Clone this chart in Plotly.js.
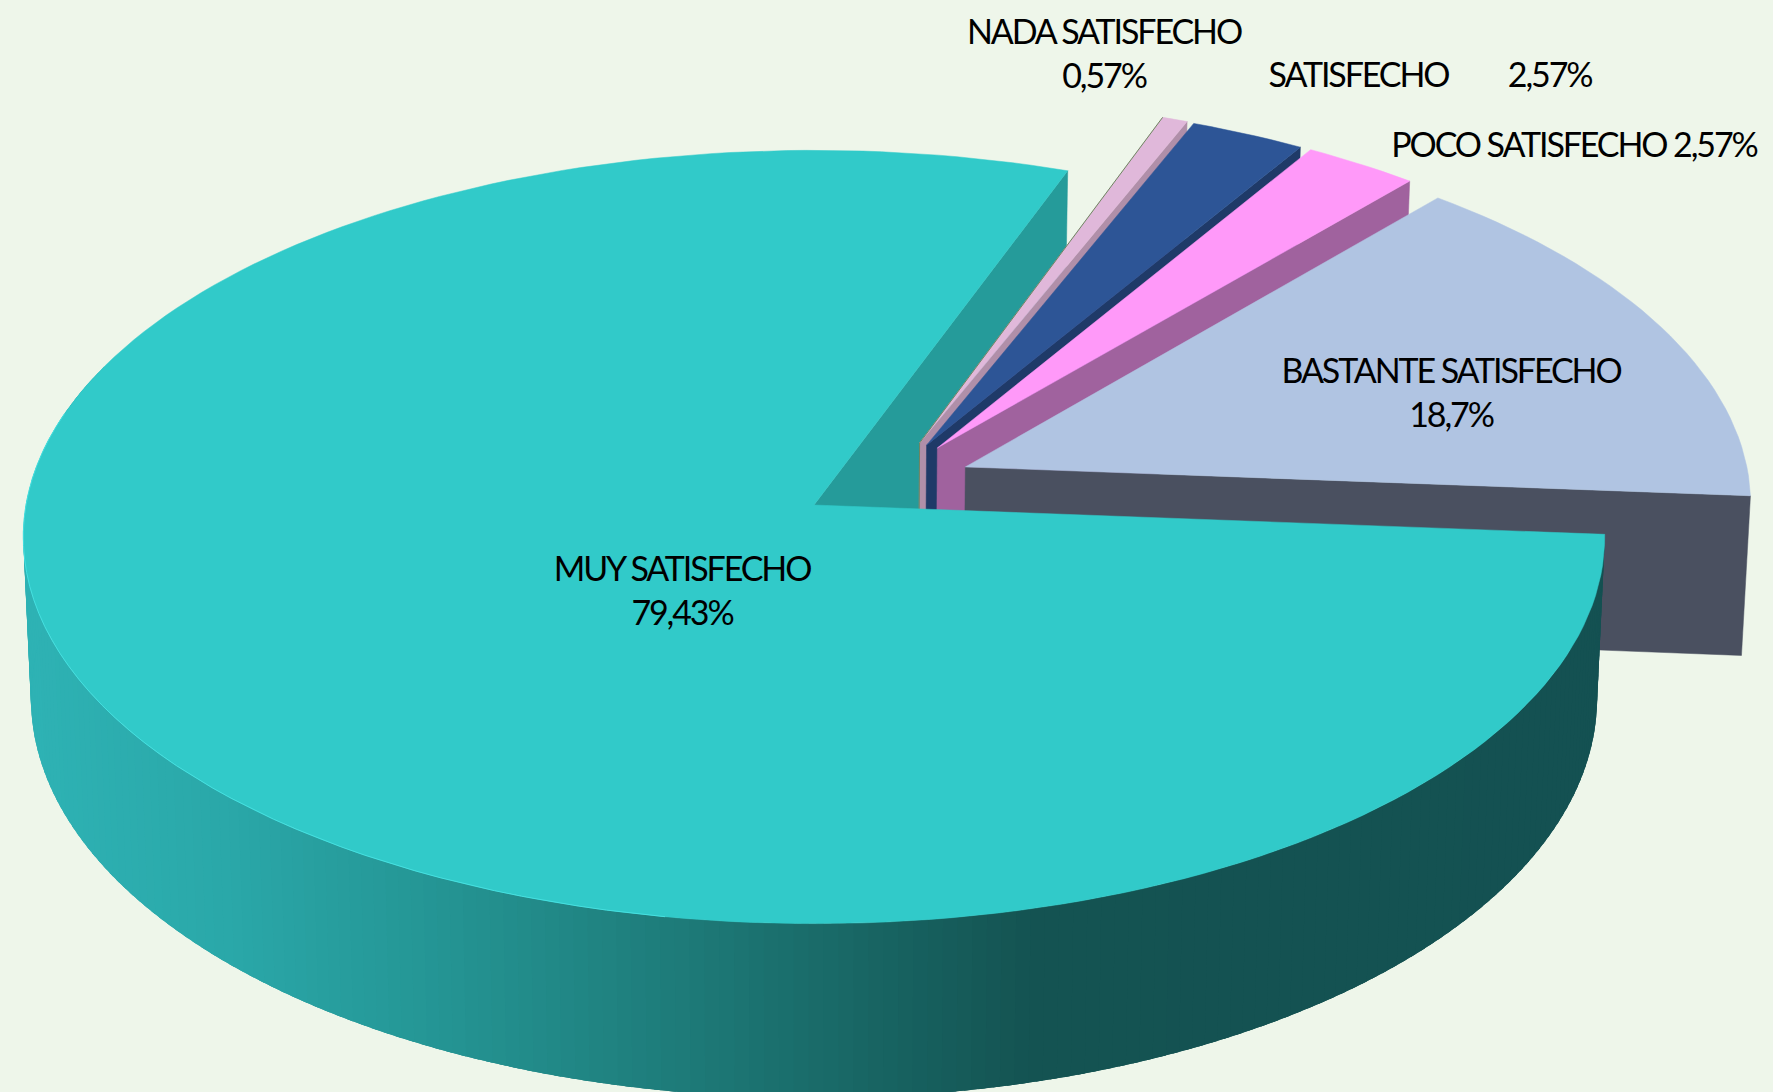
<!DOCTYPE html>
<html>
<head>
<meta charset="utf-8">
<script src="https://cdn.plot.ly/plotly-3.0.1.min.js"></script>
<style>
html,body{margin:0;padding:0;background:#EEF6EA;overflow:hidden}
.textpoint text{letter-spacing:-2.1px}
</style>
</head>
<body>
<div id="chart" style="width:1773px;height:1092px"></div>
<script>
// Slices in clockwise order, beginning at the top of the pie
const sliceNames = ["NADA SATISFECHO", "SATISFECHO", "POCO SATISFECHO", "BASTANTE SATISFECHO", "MUY SATISFECHO"];
const sliceShares = [0.57, 2.57, 2.57, 14.86, 79.43];   // share of the circle each wedge occupies in the picture
const sliceLabels = ["NADA SATISFECHO<br>0,57%", "SATISFECHO\u00A0\u00A0\u00A0\u00A0\u00A0\u00A0\u00A0\u00A0\u00A02,57%", "POCO SATISFECHO 2,57%", "BASTANTE SATISFECHO<br>18,7%", "MUY SATISFECHO<br>79,43%"];
const labelX = [1104, 1430, 1574, 1451, 682];
const labelY = [57.5, 78.5, 148.5, 396.5, 594.5];
const pullSizes = [0.2126, 0.2142, 0.2185, 0.2179, 0];
const pullAngles = [39.7, 42.5, 46.5, 62.7, 0];
const topColors = ["#E0B8DA", "#2D5596", "#FF99F9", "#B0C4E2", "#31CAC9"];
const wallColors = ["#B08FA9", "#1F3A68", "#A0629E", "#4A5060", "#259B9A"];
const sideStopX = [30, 226, 452, 678, 905, 1040, 1610];
const sideStopRGB = [[46,178,180],[42,168,169],[36,148,147],[30,124,122],[23,98,96],[20,83,82],[20,81,82]];

const START_ANGLE = 20.3, CX = 814, CY = 505, RX = 788, RY = 384, PERSP = 0.0827, DEPTH = 160, TAPER = 0.0096;

function project(u, v, z) {
  const w = 1 - PERSP * v;
  return [CX + RX * u / w * (1 - TAPER * z), CY + RY * v / w + DEPTH * z / w];
}
function rimPoint(deg, off, z) {
  const a = deg * Math.PI / 180;
  return project(off[0] + Math.sin(a), off[1] - Math.cos(a), z);
}
function polygon(points, fill, lineWidth) {
  return {
    type: "scatter", mode: "lines", fill: "toself", fillcolor: fill,
    x: points.map(p => p[0]), y: points.map(p => p[1]),
    line: {color: fill, width: lineWidth === undefined ? 0.5 : lineWidth}, hoverinfo: "skip"
  };
}
function sideColor(x) {
  let i = 0;
  while (i < sideStopX.length - 2 && x > sideStopX[i + 1]) i++;
  const t = Math.max(0, Math.min(1, (x - sideStopX[i]) / (sideStopX[i + 1] - sideStopX[i])));
  const c = sideStopRGB[i].map((s, k) => Math.round(s + (sideStopRGB[i + 1][k] - s) * t));
  return "rgb(" + c.join(",") + ")";
}

// turn the shares into angular ranges and pull offsets
let cursor = START_ANGLE;
const wedges = sliceShares.map((share, i) => {
  const from = cursor, to = cursor + share * 3.6;
  cursor = to;
  const a = pullAngles[i] * Math.PI / 180;
  return {from, to, off: [pullSizes[i] * Math.sin(a), -pullSizes[i] * Math.cos(a)], top: topColors[i], wall: wallColors[i]};
});
function wedgeTop(wd) {
  const pts = [project(wd.off[0], wd.off[1], 0)];
  const n = Math.max(4, Math.ceil((wd.to - wd.from) / 1.5));
  for (let j = 0; j <= n; j++) pts.push(rimPoint(wd.from + (wd.to - wd.from) * j / n, wd.off, 0));
  pts.push(pts[0]);
  return pts;
}
function endWall(wd) {
  return [project(wd.off[0], wd.off[1], 0), rimPoint(wd.to, wd.off, 0), rimPoint(wd.to, wd.off, 1), project(wd.off[0], wd.off[1], 1), project(wd.off[0], wd.off[1], 0)];
}

const traces = [];
const main = wedges[4];
traces.push(polygon(endWall(main), main.wall));

// the four pulled wedges, back to front
for (let i = 0; i < 4; i++) {
  traces.push(polygon(endWall(wedges[i]), wedges[i].wall));
  traces.push(polygon(wedgeTop(wedges[i]), wedges[i].top));
}
// thin olive edge on the smallest wedge
const nada = wedges[0];
const nadaApex = project(nada.off[0], nada.off[1], 0);
const nadaApexLow = project(nada.off[0], nada.off[1], 1);
const nadaRim = rimPoint(nada.from, nada.off, 0);
traces.push({type: "scatter", mode: "lines", x: [nadaRim[0], nadaApex[0], nadaApexLow[0]], y: [nadaRim[1], nadaApex[1], nadaApexLow[1]], line: {color: "#6E8560", width: 1}, hoverinfo: "skip"});

// curved outer wall of the large wedge: strips overlap so that no seams show
const stripStep = 1;
for (let d = main.from; d < 290; d += stripStep) {
  const a0 = rimPoint(d, main.off, 0), a1 = rimPoint(d + stripStep * 2.5, main.off, 0);
  const b1 = rimPoint(d + stripStep * 2.5, main.off, 1), b0 = rimPoint(d, main.off, 1);
  traces.push(polygon([a0, a1, b1, b0, a0], sideColor(a0[0]), 0));
}
// top of the large wedge
traces.push(polygon(wedgeTop(main), main.top));
// bright rim on the lit part of the large wedge
const rim = [];
for (let d = 190; d <= 285; d += 2) rim.push(rimPoint(d, main.off, 0));
traces.push({type: "scatter", mode: "lines", x: rim.map(p => p[0]), y: rim.map(p => p[1]), line: {color: "#45E0E0", width: 1}, hoverinfo: "skip"});

// labels
traces.push({
  type: "scatter", mode: "text", x: labelX, y: labelY, text: sliceLabels,
  textposition: "middle center", cliponaxis: false, hoverinfo: "skip",
  textfont: {family: "Lato, 'Open Sans', sans-serif", size: 34, color: "#000000"}
});

Plotly.newPlot("chart", traces, {
  width: 1773, height: 1092, autosize: false,
  margin: {l: 0, r: 0, t: 0, b: 0, pad: 0},
  paper_bgcolor: "#EEF6EA", plot_bgcolor: "#EEF6EA",
  showlegend: false, hovermode: false,
  xaxis: {range: [0, 1773], visible: false, fixedrange: true},
  yaxis: {range: [1092, 0], visible: false, fixedrange: true}
}, {displayModeBar: false, staticPlot: true});
</script>
</body>
</html>
